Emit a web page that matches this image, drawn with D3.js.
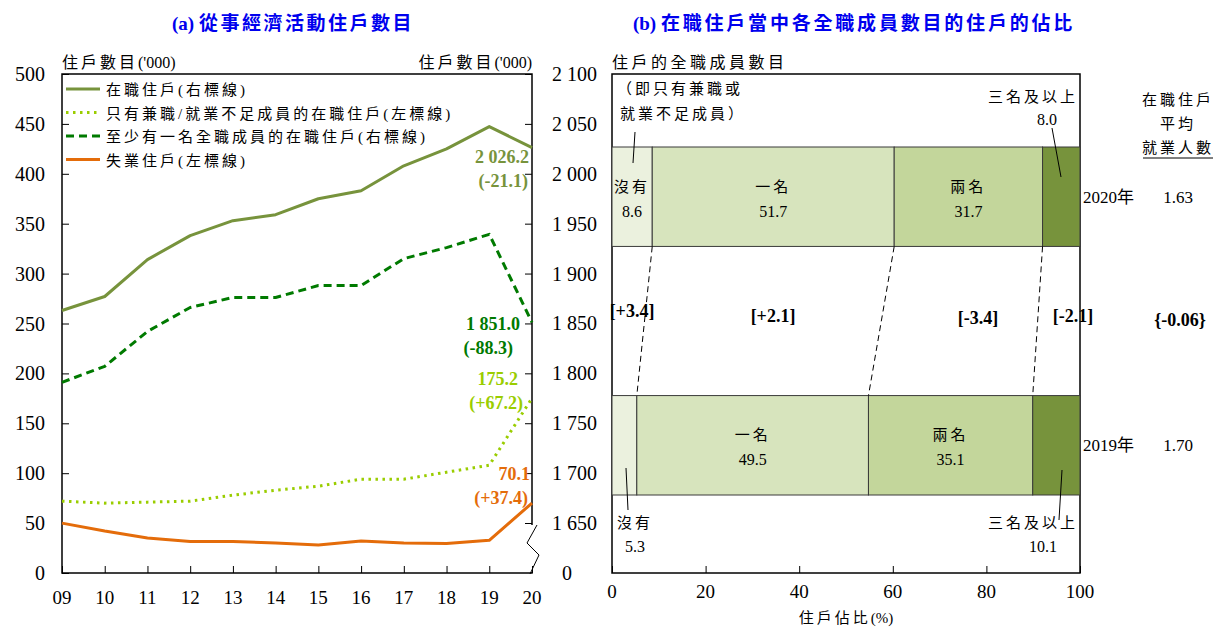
<!DOCTYPE html>
<html>
<head>
<meta charset="utf-8">
<script src="https://cdn.jsdelivr.net/npm/d3@7"></script>
<style>
  body { margin: 0; background: #fff; }
  text { font-family: "Liberation Serif", "Noto Sans CJK TC", serif; }
</style>
</head>
<body>
<svg id="chart" width="1215" height="628"></svg>
<script>
// ---------- data: panel (a) ----------
var years = ['09', '10', '11', '12', '13', '14', '15', '16', '17', '18', '19', '20'];
var employedHH = [1863, 1877, 1914, 1938, 1953, 1959, 1975, 1983, 2008, 2025, 2047.3, 2026.2];      // right axis
var partTimeOnlyHH = [72, 70, 71, 72, 78, 83, 87, 94, 94, 101, 108.0, 175.2];                       // left axis
var fullTimeHH = [1791, 1807, 1842, 1866, 1876, 1876, 1888, 1888, 1915, 1926, 1939.3, 1851.0];       // right axis
var unemployedHH = [50, 42, 35, 31.5, 31.5, 30, 28, 32, 30, 29.5, 32.7, 70.1];                       // left axis
var leftTicks = [0, 50, 100, 150, 200, 250, 300, 350, 400, 450, 500];
var rightTicks = [1650, 1700, 1750, 1800, 1850, 1900, 1950, 2000, 2050, 2100];

// ---------- data: panel (b) ----------
var barYears = ['2020年', '2019年'];
var shareCats = ['沒有', '一名', '兩名', '三名及以上'];
var share2020 = [8.6, 51.7, 31.7, 8.0];
var share2019 = [5.3, 49.5, 35.1, 10.1];
var changeLabels = ['[+3.4]', '[+2.1]', '[-3.4]', '[-2.1]'];
var avgEmployed = ['1.63', '1.70'];
var avgChange = '{-0.06}';
var pctTicks = [0, 20, 40, 60, 80, 100];

var svg = d3.select('#chart');

// text made of pieces, CJK pieces get letter spacing, latin pieces don't
function mixed(sel, parts) {
  parts.forEach(function (p) {
    sel.append('tspan').style('letter-spacing', p[1] + 'px').text(p[0]);
  });
  return sel;
}

/////////////// PANEL (a) ///////////////
var L = 62, R = 532, T = 74, B = 573;

var x = d3.scalePoint().domain(years).range([L, R]);
var yL = d3.scaleLinear().domain([0, 500]).range([B, T]);
var yR = d3.scaleLinear().domain([1650, 2100]).range([523, T]);

mixed(svg.append('text')
  .attr('x', 293).attr('y', 30)
  .attr('text-anchor', 'middle')
  .style('font-size', '19px').style('font-weight', 'bold').style('fill', '#0000ee'),
  [['(a) ', 0], ['從事經濟活動住戶數目', 2.5]]);

mixed(svg.append('text').attr('x', L).attr('y', 68).style('font-size', '16px'),
  [['住戶數目', 3], ["('000)", 0]]);
mixed(svg.append('text').attr('x', R).attr('y', 68).attr('text-anchor', 'end').style('font-size', '16px'),
  [['住戶數目', 3], ["('000)", 0]]);

// frame
svg.append('rect').attr('x', L).attr('y', T).attr('width', R - L).attr('height', B - T)
  .style('fill', 'none').style('stroke', '#000').style('stroke-width', 1.5);

// left axis
var gl = svg.append('g').attr('transform', 'translate(' + L + ',0)')
  .call(d3.axisRight(yL).tickValues(leftTicks).tickSize(7).tickFormat(''));
gl.select('.domain').remove();
svg.selectAll('.lt').data(leftTicks).enter().append('text')
  .attr('class', 'lt')
  .attr('x', 45).attr('y', d => yL(d) + 7)
  .attr('text-anchor', 'end').style('font-size', '20px')
  .text(d => d);

// right axis
var gr = svg.append('g').attr('transform', 'translate(' + R + ',0)')
  .call(d3.axisLeft(yR).tickValues(rightTicks).tickSize(7).tickFormat(''));
gr.select('.domain').remove();
svg.selectAll('.rt').data(rightTicks).enter().append('text')
  .attr('class', 'rt')
  .attr('x', 552).attr('y', d => yR(d) + 7)
  .style('font-size', '20px')
  .text(d => d3.format(',')(d).replace(',', ' '));
svg.append('text').attr('x', 562).attr('y', B + 7).style('font-size', '20px').text('0');

// break mark on right axis
svg.append('rect').attr('x', R - 4).attr('y', 525).attr('width', 8).attr('height', 47).style('fill', '#fff');
svg.append('path')
  .attr('d', d3.line()([[R + 5, 525], [R - 5, 543], [R + 7, 555], [R - 2, 574]]))
  .style('fill', 'none').style('stroke', '#000').style('stroke-width', 1);

// x axis
var gx = svg.append('g').attr('transform', 'translate(0,' + B + ')')
  .call(d3.axisTop(x).tickSize(7).tickFormat(''));
gx.select('.domain').remove();
svg.selectAll('.xt').data(years).enter().append('text')
  .attr('class', 'xt')
  .attr('x', d => x(d)).attr('y', 604)
  .attr('text-anchor', 'middle').style('font-size', '19px')
  .text(d => d);

var lineL = d3.line().x((d, i) => x(years[i])).y(d => yL(d));
var lineR = d3.line().x((d, i) => x(years[i])).y(d => yR(d));

var series = [
  { name: '在職住戶(右標線)', data: employedHH, line: lineR, color: '#77933c', dash: null },
  { name: '只有兼職/就業不足成員的在職住戶(左標線)', data: partTimeOnlyHH, line: lineL, color: '#9acd00', dash: '2.5,4.5' },
  { name: '至少有一名全職成員的在職住戶(右標線)', data: fullTimeHH, line: lineR, color: '#007a00', dash: '8,5' },
  { name: '失業住戶(左標線)', data: unemployedHH, line: lineL, color: '#e46c0a', dash: null }
];

series.forEach(function (s) {
  svg.append('path')
    .attr('d', s.line(s.data))
    .style('fill', 'none').style('stroke', s.color).style('stroke-width', 3)
    .style('stroke-dasharray', s.dash)
    .style('stroke-linejoin', 'round');
});

// legend
series.forEach(function (s, i) {
  var ly = 89 + i * 23.5;
  svg.append('line').attr('x1', 66).attr('x2', 100).attr('y1', ly).attr('y2', ly)
    .style('stroke', s.color).style('stroke-width', 3).style('stroke-dasharray', s.dash);
  svg.append('text').attr('x', 106).attr('y', ly + 6)
    .style('font-size', '15px').style('letter-spacing', '3px')
    .text(s.name);
});

// end labels
var endLabels = [
  { s: 0, v: '2 026.2', c: '(-21.1)', y: 163, x1: 529, x2: 528 },
  { s: 2, v: '1 851.0', c: '(-88.3)', y: 330, x1: 520, x2: 513 },
  { s: 1, v: '175.2', c: '(+67.2)', y: 385, x1: 518, x2: 523 },
  { s: 3, v: '70.1', c: '(+37.4)', y: 480, x1: 530, x2: 528 }
];
endLabels.forEach(function (e) {
  var col = series[e.s].color;
  svg.append('text').attr('x', e.x1).attr('y', e.y).attr('text-anchor', 'end')
    .style('font-size', '18px').style('font-weight', 'bold').style('fill', col).text(e.v);
  svg.append('text').attr('x', e.x2).attr('y', e.y + 24).attr('text-anchor', 'end')
    .style('font-size', '18px').style('font-weight', 'bold').style('fill', col).text(e.c);
});

/////////////// PANEL (b) ///////////////
var L2 = 612, R2 = 1080;
var xp = d3.scaleLinear().domain([0, 100]).range([L2, R2]);
var yb = d3.scaleBand().domain(barYears).range([147, 495]).paddingInner(0.6).paddingOuter(0);
var shareColors = ['#ebf1de', '#d7e4bd', '#c3d69b', '#77933c'];

mixed(svg.append('text')
  .attr('x', 854).attr('y', 30)
  .attr('text-anchor', 'middle')
  .style('font-size', '19px').style('font-weight', 'bold').style('fill', '#0000ee'),
  [['(b) ', 0], ['在職住戶當中各全職成員數目的住戶的佔比', 2.8]]);

svg.append('text').attr('x', L2).attr('y', 68)
  .style('font-size', '16px').style('letter-spacing', '3.5px').text('住戶的全職成員數目');

svg.append('rect').attr('x', L2).attr('y', T).attr('width', R2 - L2).attr('height', B - T)
  .style('fill', 'none').style('stroke', '#000').style('stroke-width', 1.5);

var shares = [share2020, share2019];
var bounds = shares.map(function (arr) {
  var acc = 0;
  return arr.map(function (v) { var s = acc; acc += v; return [s, acc]; });
});

barYears.forEach(function (yr, k) {
  var g = svg.append('g');
  g.selectAll('rect').data(bounds[k]).enter().append('rect')
    .attr('x', d => xp(d[0])).attr('width', d => xp(d[1]) - xp(d[0]))
    .attr('y', yb(yr)).attr('height', yb.bandwidth())
    .style('fill', (d, i) => shareColors[i])
    .style('stroke', '#3a3a3a').style('stroke-width', 1);
  var cy = yb(yr) + yb.bandwidth() / 2;
  svg.append('text').attr('x', 1083).attr('y', cy + 6).style('font-size', '17px').text(yr);
  svg.append('text').attr('x', 1178).attr('y', cy + 6).attr('text-anchor', 'middle')
    .style('font-size', '17px').text(avgEmployed[k]);
});

// labels inside bars
function inLabel(k, i) {
  var yr = barYears[k];
  var b = bounds[k][i];
  var cx = xp((b[0] + b[1]) / 2);
  var cy = yb(yr) + yb.bandwidth() / 2;
  svg.append('text').attr('x', cx).attr('y', cy - 5).attr('text-anchor', 'middle')
    .style('font-size', '15px').style('letter-spacing', '3px').text(shareCats[i]);
  svg.append('text').attr('x', cx).attr('y', cy + 20).attr('text-anchor', 'middle')
    .style('font-size', '16px').text(shares[k][i].toFixed(1));
}
inLabel(0, 0); inLabel(0, 1); inLabel(0, 2);
inLabel(1, 1); inLabel(1, 2);

// dashed connectors between boundaries
var top2020 = yb(barYears[0]) + yb.bandwidth();
var top2019 = yb(barYears[1]);
[0, 1, 2].forEach(function (i) {
  svg.append('line')
    .attr('x1', xp(bounds[0][i][1])).attr('y1', top2020)
    .attr('x2', xp(bounds[1][i][1])).attr('y2', top2019)
    .style('stroke', '#000').style('stroke-width', 1).style('stroke-dasharray', '6,4');
});

// change labels
var changeX = [632, 773, 978, 1073];
var changeY = [317, 322, 324, 322];
changeLabels.forEach(function (t, i) {
  svg.append('text').attr('x', changeX[i]).attr('y', changeY[i]).attr('text-anchor', 'middle')
    .style('font-size', '18px').style('font-weight', 'bold').text(t);
});
svg.append('text').attr('x', 1180).attr('y', 326).attr('text-anchor', 'middle')
  .style('font-size', '18px').style('font-weight', 'bold').text(avgChange);

// callouts
svg.append('text').attr('x', 617).attr('y', 94).style('font-size', '15px').style('letter-spacing', '3px').text('（即只有兼職或');
svg.append('text').attr('x', 620).attr('y', 119).style('font-size', '15px').style('letter-spacing', '3px').text('就業不足成員）');
svg.append('line').attr('x1', 635).attr('y1', 132).attr('x2', 633).attr('y2', 163).style('stroke', '#000');

svg.append('text').attr('x', 1078).attr('y', 102).attr('text-anchor', 'end').style('font-size', '15px').style('letter-spacing', '3px').text('三名及以上');
svg.append('text').attr('x', 1047).attr('y', 125).attr('text-anchor', 'middle').style('font-size', '16px').text(share2020[3].toFixed(1));
svg.append('line').attr('x1', 1052).attr('y1', 128).attr('x2', 1061).attr('y2', 177).style('stroke', '#000');

svg.append('text').attr('x', 617).attr('y', 528).style('font-size', '15px').style('letter-spacing', '3px').text('沒有');
svg.append('text').attr('x', 635).attr('y', 552).attr('text-anchor', 'middle').style('font-size', '16px').text(share2019[0].toFixed(1));
svg.append('line').attr('x1', 626).attr('y1', 468).attr('x2', 628).attr('y2', 510).style('stroke', '#000');

svg.append('text').attr('x', 1078).attr('y', 528).attr('text-anchor', 'end').style('font-size', '15px').style('letter-spacing', '3px').text('三名及以上');
svg.append('text').attr('x', 1043).attr('y', 552).attr('text-anchor', 'middle').style('font-size', '16px').text(share2019[3].toFixed(1));
svg.append('line').attr('x1', 1062).attr('y1', 470).attr('x2', 1059).attr('y2', 520).style('stroke', '#000');

// right-side header
svg.append('text').attr('x', 1178).attr('y', 105).attr('text-anchor', 'middle').style('font-size', '15px').style('letter-spacing', '3px').text('在職住戶');
svg.append('text').attr('x', 1178).attr('y', 129).attr('text-anchor', 'middle').style('font-size', '15px').style('letter-spacing', '3px').text('平均');
svg.append('text').attr('x', 1178).attr('y', 153).attr('text-anchor', 'middle').style('font-size', '15px').style('letter-spacing', '3px').text('就業人數');
svg.append('line').attr('x1', 1143).attr('x2', 1213).attr('y1', 158).attr('y2', 158).style('stroke', '#000');

// x axis (b)
var gx2 = svg.append('g').attr('transform', 'translate(0,' + B + ')')
  .call(d3.axisTop(xp).tickValues(pctTicks).tickSize(7).tickFormat(''));
gx2.select('.domain').remove();
svg.selectAll('.pt').data(pctTicks).enter().append('text')
  .attr('class', 'pt')
  .attr('x', d => xp(d)).attr('y', 598)
  .attr('text-anchor', 'middle').style('font-size', '19px')
  .text(d => d);
mixed(svg.append('text').attr('x', 846).attr('y', 623).attr('text-anchor', 'middle').style('font-size', '15px'),
  [['住戶佔比', 3], ['(%)', 0]]);
</script>
</body>
</html>
